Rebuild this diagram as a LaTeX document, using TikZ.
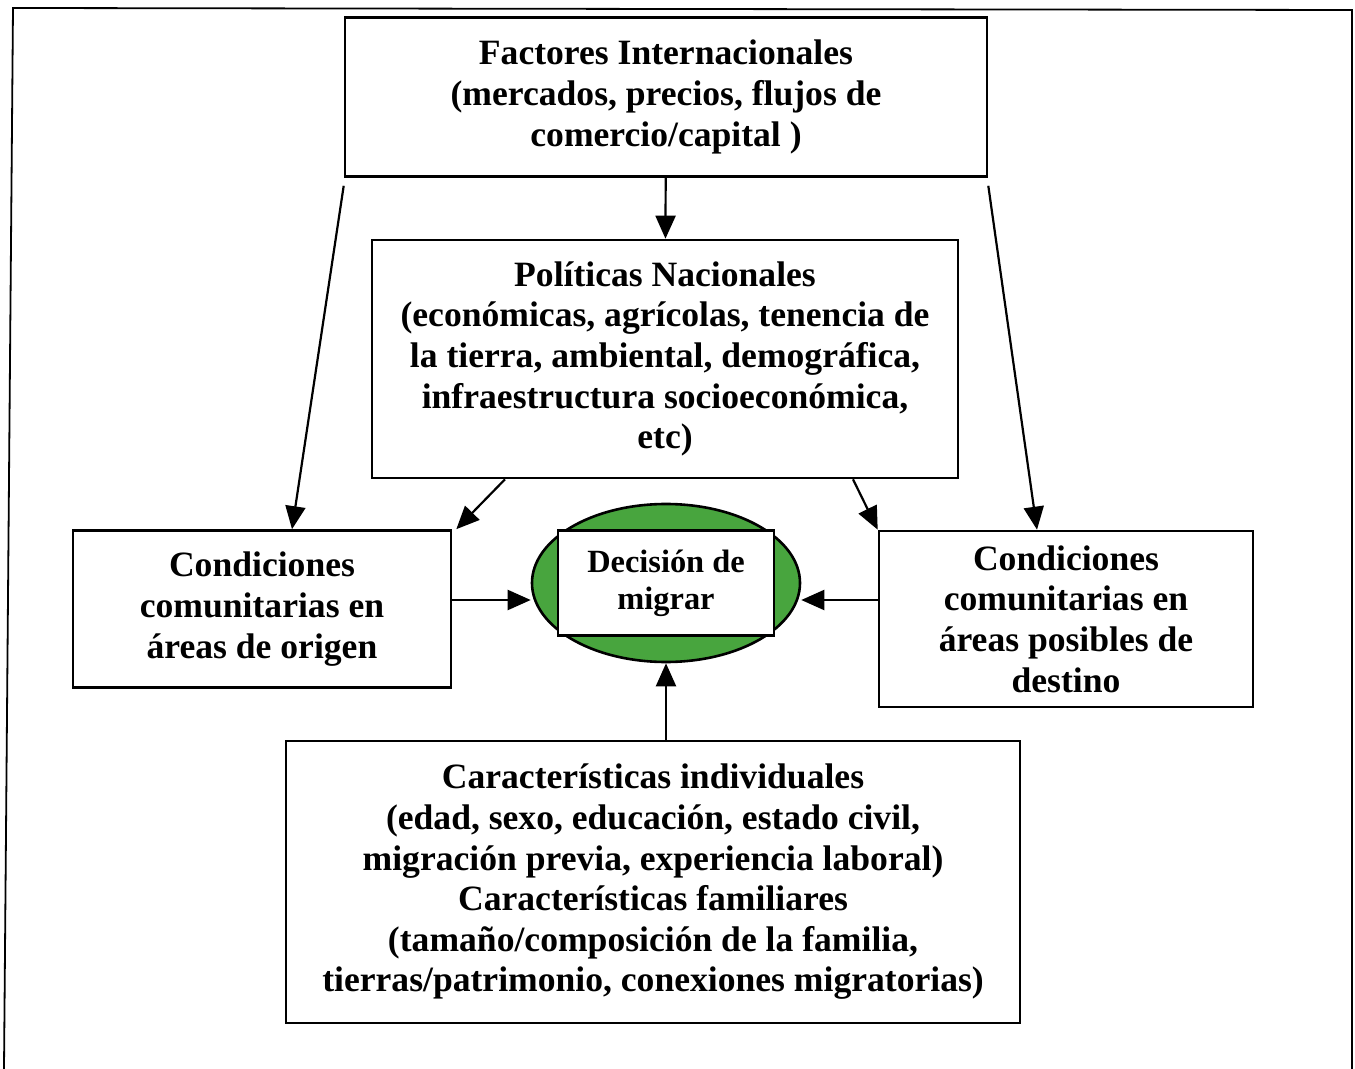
\documentclass[tikz,border=0pt]{standalone}
\usepackage{fontspec}
\setmainfont{Liberation Serif}
\usetikzlibrary{positioning, shapes.geometric, arrows.meta}
\definecolor{verdeelipse}{RGB}{72,165,62}

\begin{document}
\begin{tikzpicture}[
		x=0.5pt, y=-0.5pt,
		font=\bfseries\fontsize{17.8}{20.3}\selectfont,
		caja/.style={
			draw,
			line width=1.3pt,
			align=center,
			inner sep=0pt
		},
		flecha/.style={-{Triangle[length=11.5pt,width=10pt]}, line width=1.1pt}
		]
		\useasboundingbox (0,0) rectangle (1355,1069);
		
		% --- Frame ---
		\draw[line width=0.9pt] (4,1069) -- (13,8) -- (1352,10) -- (1352,1069);
		
		% --- Factores internacionales (top) ---
		\node[caja, minimum width=321pt, minimum height=79.5pt] (intl) at (666,97) {
			Factores Internacionales\\
			(mercados, precios, flujos de\\
			comercio/capital )
		};
		
		% --- Politicas nacionales ---
		\node[caja, minimum width=293pt, minimum height=119pt] (politicas) at (665,359) {
			Políticas Nacionales\\
			(económicas, agrícolas, tenencia de\\
			la tierra, ambiental, demográfica,\\
			infraestructura socioeconómica,\\
			etc)
		};
		
		% --- Condiciones en origen ---
		\node[caja, minimum width=189pt, minimum height=78.5pt] (origen) at (262,609) {
			Condiciones\\
			comunitarias en\\
			áreas de origen
		};
		
		% --- Condiciones en destino ---
		\node[caja, minimum width=187pt, minimum height=88pt] (destino) at (1066,619) {
			Condiciones\\
			comunitarias en\\
			áreas posibles de\\
			destino
		};
		
		% --- Decision (center) ---
		\node[ellipse, draw, line width=1.3pt, fill=verdeelipse,
			minimum width=134pt, minimum height=79pt] (elipse) at (666,583) {};
		\node[caja, fill=white, minimum width=108pt, minimum height=52.5pt,
			font=\bfseries\fontsize{16.2}{18.5}\selectfont] (decision) at (666,583) {
			Decisión de\\
			migrar
		};
		
		% --- Caracteristicas (bottom) ---
		\node[caja, minimum width=367pt, minimum height=141pt] (indiv) at (653,882) {
			Características individuales\\
			(edad, sexo, educación, estado civil,\\
			migración previa, experiencia laboral)\\
			Características familiares\\
			(tamaño/composición de la familia,\\
			tierras/patrimonio, conexiones migratorias)
		};
		
		% --- Connectors ---
		\draw[flecha] (intl) -- (politicas);
		\draw[flecha] ([yshift=-4pt]intl.south west) -- ([xshift=15pt]origen.north);
		\draw[flecha] ([yshift=-4pt]intl.south east) -- ([xshift=-14.5pt]destino.north);
		\draw[flecha] ([xshift=-80pt]politicas.south) -- ([xshift=2pt]origen.north east);
		\draw[flecha] ([xshift=94pt]politicas.south) -- (destino.north west);
		\draw[flecha] ([yshift=4.5pt]origen.east) -- ([yshift=4.5pt]origen.east -| elipse.west);
		\draw[flecha] ([yshift=9.5pt]destino.west) -- ([yshift=9.5pt]destino.west -| elipse.east);
		\draw[flecha] (indiv.north -| elipse.south) -- (elipse.south);
		
	\end{tikzpicture}
\end{document}
